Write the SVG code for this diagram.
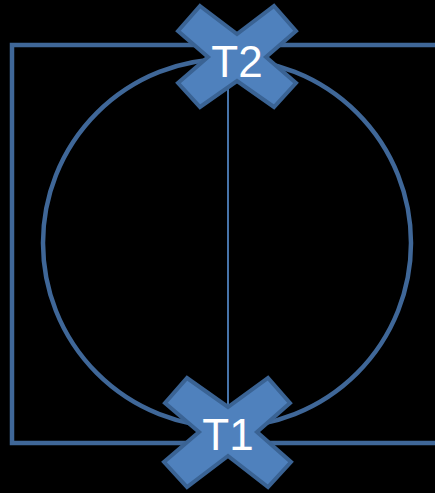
<svg xmlns="http://www.w3.org/2000/svg" width="435" height="493" viewBox="0 0 435 493">
<style>
.wire{fill:none;stroke:#3f6798;stroke-width:4.5}
.thin{fill:none;stroke:#4f81bd;stroke-width:1.8}
.x{fill:#4f81bd;stroke:#3a6394;stroke-width:4;stroke-linejoin:miter}
.lbl{font-family:"Liberation Sans",Arial,sans-serif;font-size:44px;fill:#ffffff;text-anchor:middle}
</style>
<rect width="435" height="493" fill="#000000"/>
<g id="connectors">
<polyline class="wire" points="437,45 12,45 12,443 437,443"/>
<ellipse class="wire" cx="227" cy="243" rx="184" ry="184"/>
<line class="thin" x1="228" y1="80" x2="228" y2="420"/>
</g>
<g id="T2">
<polygon class="x" points="200,6 237,34 274,6 296,31 266,57 296,83 274,107 237,81 200,107 178,83 208,57 178,31"/>
<text class="lbl" x="237" y="77">T2</text>
</g>
<g id="T1">
<polygon class="x" points="187,378 228,407 268,378 290,403 257,432 291,462 268,487 228,456 187,487 164,462 199,432 165,403"/>
<text class="lbl" x="228" y="450">T1</text>
</g>
</svg>
